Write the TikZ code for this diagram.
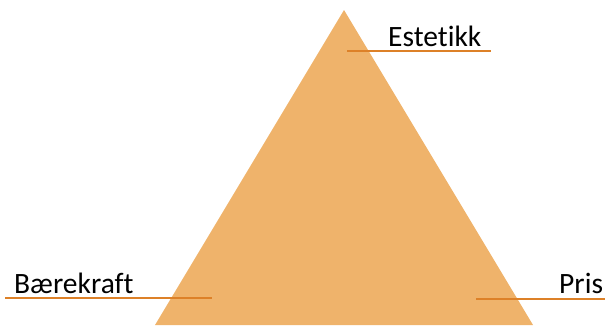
\documentclass[tikz,border=0pt]{standalone}
\usepackage{fontspec}
\setmainfont[Ligatures={NoCommon,NoDiscretionary}]{Carlito}
\definecolor{trifill}{HTML}{EFB36B}
\definecolor{lineor}{HTML}{DD8128}
\begin{document}
\begin{tikzpicture}[x=1pt,y=-1pt,
  lbl/.style={anchor=base west,inner sep=0pt,font=\fontsize{29.5}{35}\selectfont,text=black},
  uline/.style={draw=lineor,line width=2pt}]
\useasboundingbox (0,0) rectangle (605,325);
\coordinate (apex) at (344,10);
\coordinate (bl) at (155,325);
\coordinate (br) at (533,325);
\fill[trifill] (apex) -- (bl) -- (br) -- cycle;
\node[lbl] (est) at (388,46) {Estetikk};
\node[lbl] (bae) at (14,293) {Bærekraft};
\node[lbl] (pris) at (559,293) {Pris};
\coordinate (e1) at (347,51);
\coordinate (e2) at (491,51);
\coordinate (b1) at (5,297.5);
\coordinate (b2) at (212,297.5);
\coordinate (p1) at (476,298.5);
\coordinate (p2) at (605,298.5);
\draw[uline] (e1) -- (e2);
\draw[uline] (b1) -- (b2);
\draw[uline] (p1) -- (p2);
\end{tikzpicture}
\end{document}
